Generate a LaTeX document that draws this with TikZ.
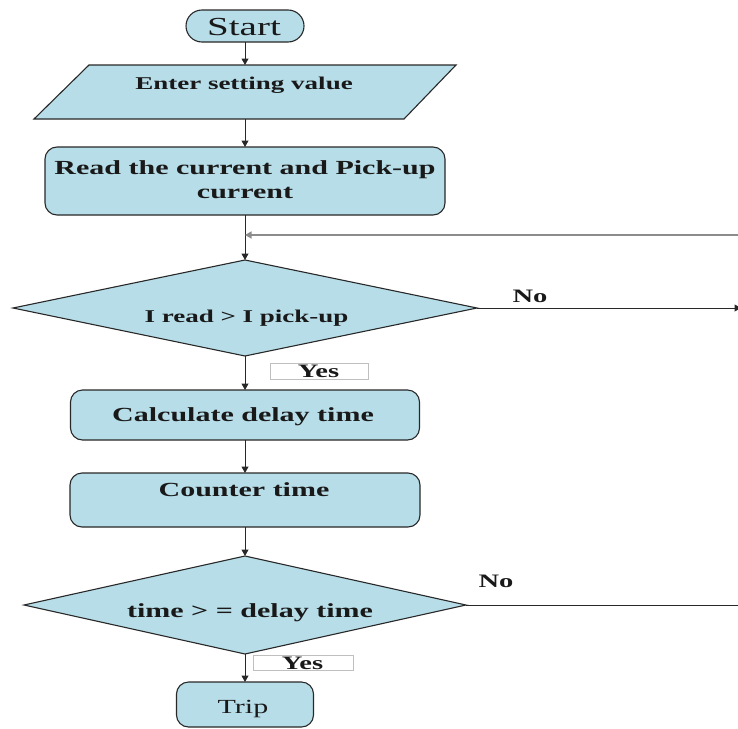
\documentclass[tikz,border=0pt]{standalone}
\usepackage{fontspec}
\setmainfont{Liberation Serif}[FakeStretch=1.5]
\usetikzlibrary{arrows.meta,shapes.geometric}
\definecolor{boxfill}{RGB}{183,221,232}
\definecolor{edge}{RGB}{40,40,40}

\begin{document}
\begin{tikzpicture}[x=1pt,y=-1pt,
  shapebox/.style={draw=edge,line width=1.1pt,fill=boxfill,inner sep=0pt,outer sep=0pt},
  procbox/.style={shapebox,rectangle,rounded corners=12pt},
  decision/.style={shapebox,diamond},
  flow/.style={draw=edge,line width=1pt,-{Triangle[width=7pt,length=6.5pt]}},
  plainline/.style={draw=edge,line width=1pt},
  backline/.style={draw=black!45,line width=1.4pt,-{Triangle[width=7pt,length=6.5pt]}},
  tagbox/.style={draw=black!25,line width=0.6pt,fill=white,inner sep=0pt,outer sep=0pt},
  txt/.style={anchor=base,inner sep=0pt,text=black!90,font=\bfseries\fontsize{20}{24}\selectfont},
  smalltxt/.style={txt,font=\bfseries\fontsize{18}{22}\selectfont},
  tagtxt/.style={txt,font=\bfseries\fontsize{19}{22}\selectfont},
  plaintxt/.style={anchor=base,inner sep=0pt,text=black!90,font=\fontsize{20}{24}\selectfont}
]
\useasboundingbox (0,0) rectangle (738,728);

% shapes
\node[shapebox,rectangle,rounded corners=16pt,minimum width=118pt,minimum height=32pt] (start) at (245,26) {};
\node[inner sep=0pt,outer sep=0pt,minimum width=422pt,minimum height=54pt] (enter) at (245,92) {};
\draw[shapebox] ([xshift=55pt]enter.north west) -- (enter.north east)
  -- ([xshift=-52pt]enter.south east) -- (enter.south west) -- cycle;
\node[procbox,minimum width=400pt,minimum height=68pt] (read) at (245,181) {};
\node[decision,minimum width=464pt,minimum height=96pt] (d1) at (245,308) {};
\node[procbox,minimum width=349pt,minimum height=50pt] (calc) at (245,415) {};
\node[procbox,minimum width=350pt,minimum height=54pt] (counter) at (245,500) {};
\node[decision,minimum width=442pt,minimum height=98pt] (d2) at (245,605) {};
\node[procbox,minimum width=137pt,minimum height=45pt] (trip) at (245,704.5) {};

% connectors
\coordinate (loopin) at (740,235);
\coordinate (loopjoin) at (245,235);
\coordinate (noone) at (741,308);
\coordinate (notwo) at (740,605);
\draw[flow] (start) -- (enter);
\draw[flow] (enter) -- (read);
\draw[flow] (read) -- (d1);
\draw[backline] (loopin) -- (loopjoin);
\draw[flow] (d1.east) -- (noone);
\draw[flow] (d1) -- (calc);
\draw[flow] (calc) -- (counter);
\draw[flow] (counter) -- (d2);
\draw[plainline] (d2.east) -- (notwo);
\draw[flow] (d2) -- (trip);

% branch tags
\node[tagbox,minimum width=98pt,minimum height=16pt] (yesonebox) at (319,371) {};
\node[tagbox,minimum width=100pt,minimum height=15pt] (yestwobox) at (303,662.5) {};

% texts
\node[plaintxt,font=\fontsize{26}{30}\selectfont] (tstart) at (244,35) {Start};
\node[smalltxt] (tenter) at (244,89) {Enter setting value};
\node[txt] (treadA) at (245,174) {Read the current and Pick-up};
\node[txt] (treadB) at (245,198) {current};
\node[smalltxt] (tdone) at (246.5,322) {I read > I pick-up};
\node[txt] (tcalc) at (243,421) {Calculate delay time};
\node[txt] (tcounter) at (244,496) {Counter time};
\node[txt] (tdtwo) at (250,617) {time > = delay time};
\node[plaintxt] (ttrip) at (243,713) {Trip};
\node[tagtxt] (tyesone) at (318.5,377) {Yes};
\node[tagtxt] (tyestwo) at (302.5,669) {Yes};
\node[tagtxt] (tnoone) at (530,302) {No};
\node[tagtxt] (tnotwo) at (496,587) {No};
\end{tikzpicture}
\end{document}
